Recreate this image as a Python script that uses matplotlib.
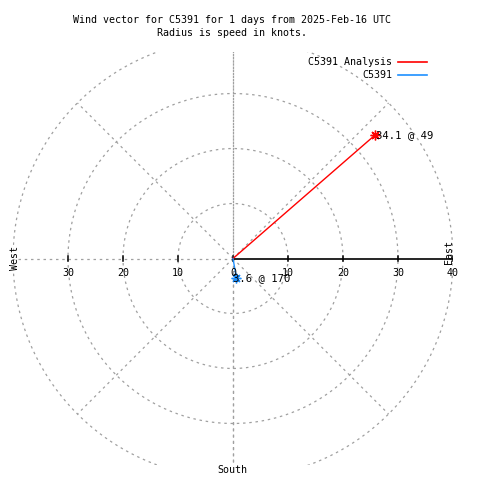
import numpy as np
import matplotlib
matplotlib.use("Agg")
import matplotlib.pyplot as plt
from matplotlib.lines import Line2D

# ----------------------------------------
# Data
# ----------------------------------------
names = ["C5391 Analysis", "C5391"]
speeds = [34.1, 3.6]      # knots
dirs = [49, 170]          # degrees, clockwise from north
colors = ["#ff0000", "#1e90ff"]

rings = [10, 20, 30, 40]
spokes = [0, 45, 90, 135, 180, 225, 270, 315]
tick_vals = [-30, -20, -10, 0, 10, 20, 30, 40]

FS = 7.2
plt.rcParams["font.family"] = ["DejaVu Sans Mono"]
plt.rcParams["font.size"] = FS

W = 480
fig = plt.figure(figsize=(4.8, 4.8), dpi=100)
ax = fig.add_axes([13 / W, 15 / W, 440 / W, 413 / W])
ax.set_xlim(-40, 40)
ax.set_ylim(-37.55, 37.55)
ax.axis("off")

grid_kw = dict(color="#a0a0a0", lw=0.9, ls=(0, (2, 3)))

# rings
t = np.linspace(0, 2 * np.pi, 400)
for r in rings:
    ax.plot(r * np.cos(t), r * np.sin(t), **grid_kw)

# spokes (right side is drawn as the solid axis)
for a in spokes:
    if a == 90:
        continue
    rad = np.radians(a)
    ax.plot([0, 40 * np.sin(rad)], [0, 40 * np.cos(rad)], **grid_kw)
ax.plot([0, 0], [-60, 60], **grid_kw)

# solid axis with ticks
ax.plot([0, 40], [0, 0], color="black", lw=1.2)
for v in tick_vals:
    ax.plot([v, v], [-0.5, 0.5], color="black", lw=1.1)
    ax.text(v, -2.7, str(abs(v)), ha="center", va="center", fontsize=FS)

# compass labels
ax.text(-39.6, 0, "West", rotation=90, ha="center", va="center", fontsize=FS)
ax.text(39.2, 1.2, "East", rotation=90, ha="center", va="center", fontsize=FS)
fig.text(232 / W, 1 - 470 / W, "South", ha="center", va="center", fontsize=FS)

# wind vectors
for nm, s, d, c in zip(names, speeds, dirs, colors):
    x = s * np.sin(np.radians(d))
    y = s * np.cos(np.radians(d))
    ax.plot([0, x], [0, y], color=c, lw=1)
    ax.plot([x], [y], marker=(8, 2, 0), color=c, ms=7, mew=1)
    ax.text(x + 0.2 if d < 90 else x - 0.6, y, f"{s} @ {d}", ha="left",
            va="center", fontsize=7.6)

# legend
for i, (nm, c) in enumerate(zip(names, colors)):
    yy = 1 - (62 + 13 * i) / W
    fig.text(392 / W, yy, nm, ha="right", va="center", fontsize=FS)
    fig.add_artist(Line2D([398 / W, 427 / W], [yy, yy], color=c, lw=1.2))

fig.text(232 / W, 1 - 20 / W,
         "Wind vector for C5391 for 1 days from 2025-Feb-16 UTC",
         ha="center", va="center", fontsize=FS)
fig.text(232 / W, 1 - 33 / W, "Radius is speed in knots.",
         ha="center", va="center", fontsize=FS)

fig.savefig("out.png", dpi=100)
